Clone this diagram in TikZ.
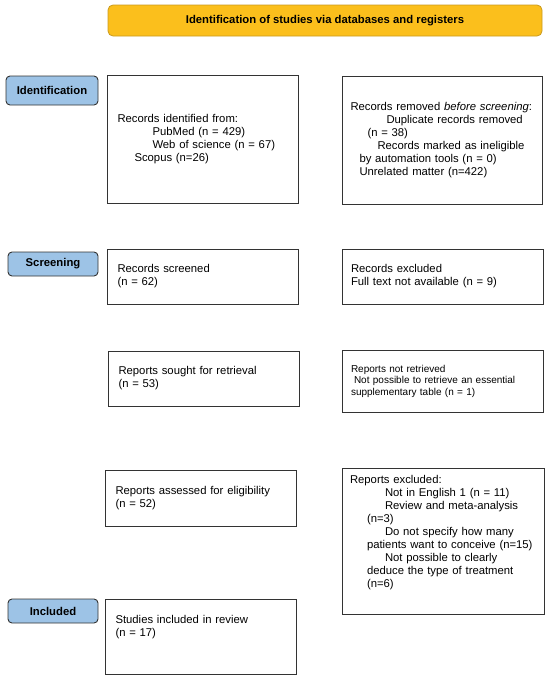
\documentclass[tikz,border=0pt]{standalone}
\usepackage{fontspec}
\setmainfont{Liberation Sans}
\usetikzlibrary{calc}

\definecolor{headfill}{HTML}{FBBF1C}
\definecolor{headline}{HTML}{C99A1E}
\definecolor{stagefill}{HTML}{9DC3E6}

\begin{document}
\begin{tikzpicture}[x=1pt,y=-1pt,
    headbox/.style={draw=headline,fill=headfill,line width=0.8pt,rounded corners=5pt,
        minimum width=434pt,minimum height=31pt,font=\bfseries\fontsize{11.3}{13}\selectfont},
    stagebox/.style={draw=black!80,fill=stagefill,line width=0.9pt,rounded corners=4pt,
        minimum width=90pt,minimum height=24pt,font=\bfseries\fontsize{11.3}{13}\selectfont},
    recbox/.style={draw=black!80,line width=0.9pt,inner xsep=10.5pt,align=left,
        font=\fontsize{11.3}{13.1}\selectfont}]
        \useasboundingbox (0,0) rectangle (550,680);

        \node[headbox] (title) at (325,20.5) {Identification of studies via databases and registers};

        % stages
        \node[stagebox,minimum width=92pt,minimum height=29pt] (identlab) at (52,90.5) {Identification};
        \node[stagebox] (screenlab) at (53,264) {Screening};
        \node[stagebox] (incllab) at (53,611) {Included};

        % left column
        \node[recbox,text width=170pt,minimum height=128pt] (identified) at (202.5,139)
            {Records identified from:\\
             \hspace*{35pt}PubMed (n = 429)\\
             \hspace*{35pt}Web of science (n = 67)\\
             \hspace*{17pt}Scopus (n=26)};
        \node[recbox,text width=170pt,minimum height=55pt] (screened) at (202.5,276.5)
            {Records screened\\(n = 62)};
        \node[recbox,text width=170pt,minimum height=55pt] (sought) at (203.5,378.5)
            {Reports sought for retrieval\\(n = 53)};
        \node[recbox,text width=170pt,minimum height=56pt] (assessed) at (200.5,498)
            {Reports assessed for eligibility\\(n = 52)};
        \node[recbox,text width=170pt,minimum height=75pt,text depth=34pt] (included) at (200.5,636.5)
            {Studies included in review\\(n = 17)};

        % right column
        \node[recbox,inner xsep=8.5pt,text width=183pt,minimum height=128pt] (removed) at (442,140)
            {Records removed \textit{before screening}:\\
             \hspace*{36pt}Duplicate records removed\\
             \hspace*{17pt}(n = 38)\\
             \hspace*{27pt}Records marked as ineligible\\
             \hspace*{9pt}by automation tools (n = 0)\\
             \hspace*{9pt}Unrelated matter (n=422)};
        \node[recbox,inner xsep=9pt,text width=183pt,minimum height=55pt] (excluded) at (442.5,276.5)
            {Records excluded\\Full text not available (n = 9)};
        \node[recbox,inner xsep=9pt,text width=183pt,minimum height=62pt,font=\fontsize{10}{11.5}\selectfont] (notretrieved) at (442.5,381)
            {Reports not retrieved\\
             \hspace*{3pt}Not possible to retrieve an essential\\
             supplementary table (n = 1)};
        \node[recbox,inner xsep=8pt,text width=186pt,minimum height=146pt,text depth=124pt] (repexcluded) at (443,541)
            {Reports excluded:\\
             \hspace*{35pt}Not in English 1 (n = 11)\\
             \hspace*{35pt}Review and meta-analysis\\
             \hspace*{17pt}(n=3)\\
             \hspace*{35pt}Do not specify how many\\
             \hspace*{17pt}patients want to conceive (n=15)\\
             \hspace*{35pt}Not possible to clearly\\
             \hspace*{17pt}deduce the type of treatment\\
             \hspace*{17pt}(n=6)};

    \end{tikzpicture}
\end{document}
